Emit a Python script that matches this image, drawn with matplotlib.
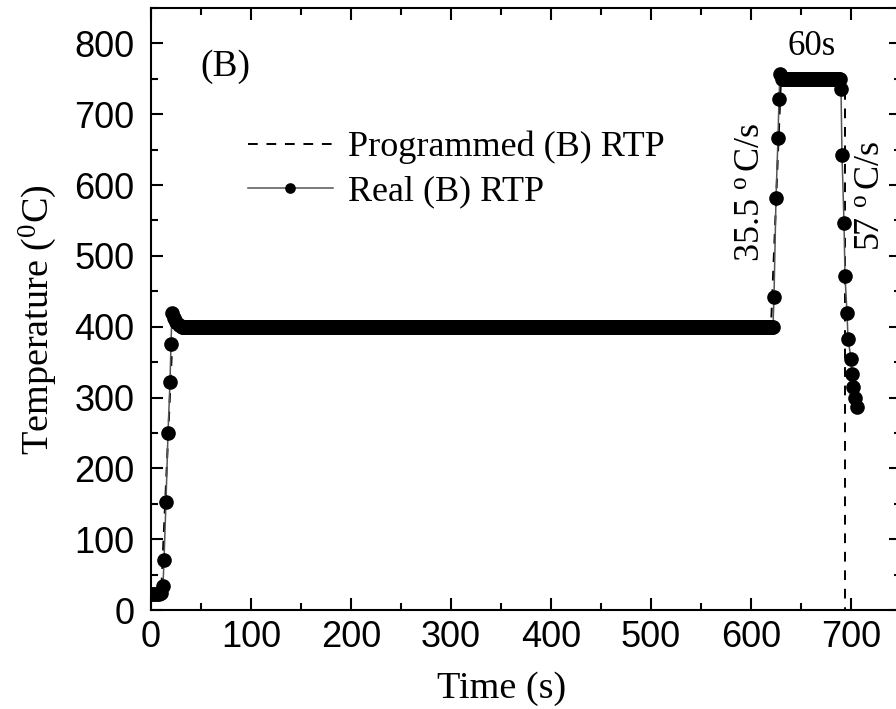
import numpy as np
import matplotlib
matplotlib.use("Agg")
import matplotlib.pyplot as plt
from matplotlib.ticker import MultipleLocator

plt.rcParams["mathtext.fontset"] = "custom"
plt.rcParams["mathtext.rm"] = "Liberation Serif"
plt.rcParams["mathtext.it"] = "Liberation Serif:italic"

SERIF = "Liberation Serif"
SANS = "Liberation Sans"

# Programmed RTP profile (time in s, temperature in degC)
prog_t = [0, 10, 22, 620, 630, 690, 694, 694]
prog_T = [20, 20, 400, 400, 750, 750, 750, 0]

# Measured RTP profile: warm-up and first ramp
heat_t = [0, 2, 4, 6, 8, 10, 12, 13, 15, 17, 19, 20, 21, 23, 25, 28, 30]
heat_T = [22, 22, 22, 22, 23, 24, 34, 70, 153, 250, 322, 376, 420, 412, 406, 402, 401]

# Measured hold at 400 degC (logged every second)
hold_t = np.arange(31, 623, 1)
hold_T = np.full(hold_t.shape, 400.0)

# Second ramp, 750 degC plateau (60 s) and cooling
ramp_t = [623, 625, 627, 628, 629]
ramp_T = [442, 582, 667, 722, 757]
plat_t = np.arange(631, 690, 1)
plat_T = np.full(plat_t.shape, 750.0)
cool_t = [690, 691, 693, 694, 696, 697, 700, 701, 702, 704, 706]
cool_T = [736, 643, 546, 472, 420, 383, 355, 333, 315, 300, 286]

real_t = np.concatenate([heat_t, hold_t, ramp_t, plat_t, cool_t])
real_T = np.concatenate([heat_T, hold_T, ramp_T, plat_T, cool_T])

fig = plt.figure(figsize=(8.96, 7.09), dpi=100)
ax = fig.add_axes([151 / 896, 99 / 709, 750 / 896, 602 / 709])

ax.plot(prog_t, prog_T, color="black", lw=1.4, ls=(0, (5, 4.5)),
        label="Programmed (B) RTP", zorder=2)
ax.plot(real_t, real_T, color="#555555", lw=1.1, marker="o", ms=9.5,
        mfc="black", mec="black", label="Real (B) RTP", zorder=3)

ax.set_xlim(0, 750)
ax.set_ylim(0, 850)
ax.xaxis.set_major_locator(MultipleLocator(100))
ax.xaxis.set_minor_locator(MultipleLocator(50))
ax.yaxis.set_major_locator(MultipleLocator(100))
ax.yaxis.set_minor_locator(MultipleLocator(50))
ax.tick_params(which="both", direction="in", top=True, right=True, width=1.5)
ax.tick_params(which="major", length=8.6, labelsize=26)
ax.tick_params(which="minor", length=5)
ax.tick_params(axis="x", which="major", pad=7)
ax.tick_params(axis="y", which="major", pad=12)
for lab in ax.get_xticklabels() + ax.get_yticklabels():
    lab.set_fontfamily(SANS)
for sp in ax.spines.values():
    sp.set_linewidth(1.5)

ax.set_xlabel("Time (s)", fontfamily=SERIF, fontsize=27.5)
ax.set_ylabel("Temperature ($^{0}$C)", fontfamily=SERIF, fontsize=27.5)
ax.xaxis.set_label_coords(0.467, -0.102)
ax.yaxis.set_label_coords(-0.122, 0.483)

ax.text(49, 767, "(B)", fontfamily=SERIF, fontsize=27, ha="left", va="center")
ax.text(661, 796, "60s", fontfamily=SERIF, fontsize=25, ha="center", va="center")
ax.text(599, 590, r"35.5 $^{\mathrm{o}}\,$C/s", fontfamily=SERIF, fontsize=26,
        rotation=90, ha="center", va="center")
ax.text(719, 585, r"57 $^{\mathrm{o}}\,$C/s", fontfamily=SERIF, fontsize=26,
        rotation=90, ha="center", va="center")

ax.legend(loc="upper left", bbox_to_anchor=(0.086, 0.85), frameon=False,
          prop={"family": SERIF, "size": 26}, handlelength=2.35,
          handletextpad=0.42, labelspacing=0.3, markerscale=0.7)

fig.savefig("out.png", dpi=100)
